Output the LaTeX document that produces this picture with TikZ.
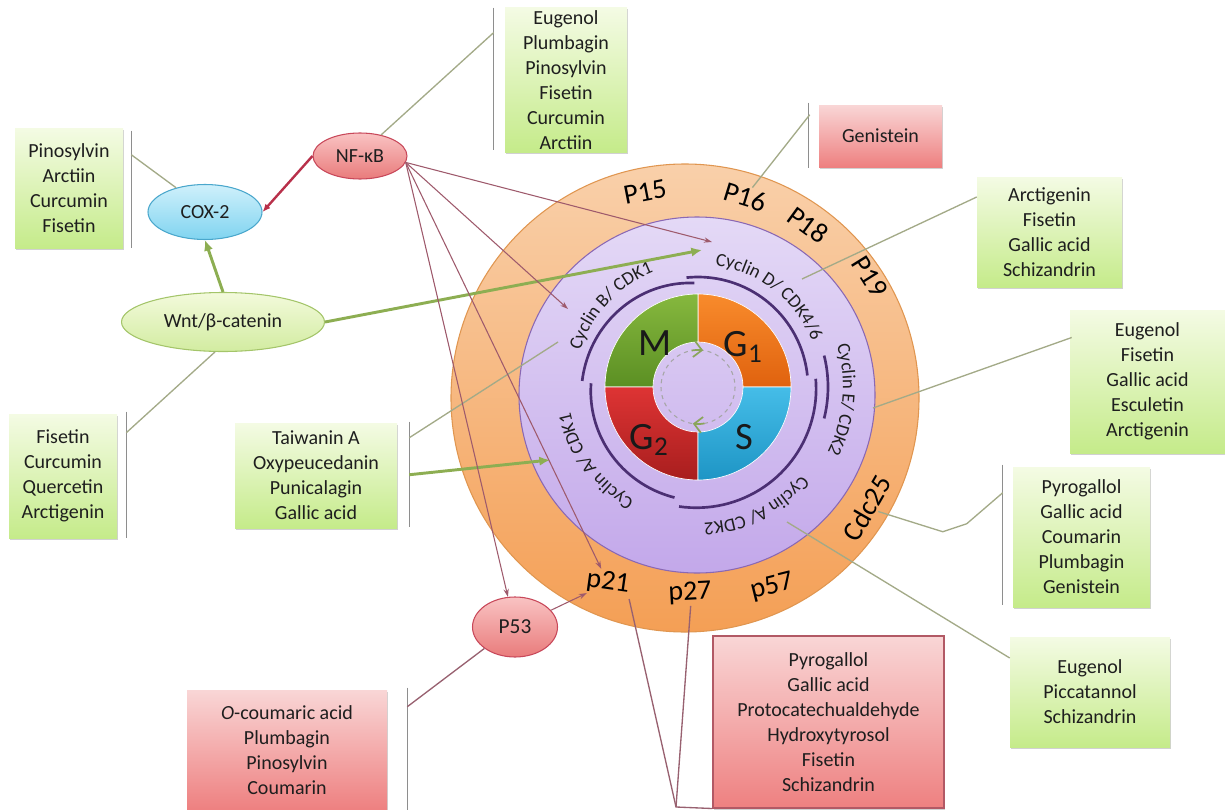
\documentclass[tikz,border=0pt]{standalone}
\usepackage{fontspec}
\setmainfont{Carlito}
\usetikzlibrary{arrows.meta,shapes.geometric,decorations.text,shadows,calc}

\definecolor{ortop}{HTML}{F9D0AA}
\definecolor{orbot}{HTML}{F49F55}
\definecolor{ordraw}{HTML}{E09650}
\definecolor{pltop}{HTML}{E4D9F6}
\definecolor{plbot}{HTML}{C3A8EA}
\definecolor{pldraw}{HTML}{8A68B4}
\definecolor{cycline}{HTML}{4B2F73}
\definecolor{g1top}{HTML}{F88B2C}
\definecolor{g1bot}{HTML}{E0620E}
\definecolor{mtop}{HTML}{86B83E}
\definecolor{mbot}{HTML}{5B8F23}
\definecolor{g2top}{HTML}{DE3434}
\definecolor{g2bot}{HTML}{A81E1E}
\definecolor{stop}{HTML}{45BDE8}
\definecolor{sbot}{HTML}{1E95C5}
\definecolor{nftop}{HTML}{F9C3C3}
\definecolor{nfbot}{HTML}{E97B7B}
\definecolor{nfdraw}{HTML}{C8485A}
\definecolor{coxtop}{HTML}{CFF0FB}
\definecolor{coxbot}{HTML}{80D4F0}
\definecolor{coxdraw}{HTML}{4AA7CC}
\definecolor{wnttop}{HTML}{F3FADC}
\definecolor{wntbot}{HTML}{D2ECA0}
\definecolor{wntdraw}{HTML}{A4C56A}
\definecolor{gtop}{HTML}{F4FBE4}
\definecolor{gbot}{HTML}{C5EB8A}
\definecolor{rtop}{HTML}{F9D6D6}
\definecolor{rbot}{HTML}{EE8080}
\definecolor{linkc}{HTML}{A3AA88}
\definecolor{brkc}{HTML}{8E8E8E}
\definecolor{nfc}{HTML}{9E5A6C}
\definecolor{greenarr}{HTML}{8DAE52}
\definecolor{redarr}{HTML}{B8304A}
\definecolor{txt}{HTML}{1E1E1E}

\newcommand\cycfont{\fontsize{14}{16}\selectfont\color{txt}}

\begin{document}
\begin{tikzpicture}[x=0.75pt, y=-0.75pt,
    drug/.style={rectangle, align=center, inner sep=2pt, text=txt,
                 font=\fontsize{15}{18.75}\selectfont,
                 drop shadow={shadow xshift=0.8pt, shadow yshift=-1.2pt, fill=black!40, opacity=0.45}},
    gbox/.style={drug, top color=gtop, bottom color=gbot},
    rbox/.style={drug, top color=rtop, bottom color=rbot},
    sig/.style={ellipse, draw, line width=0.8pt, inner sep=0pt, text=txt,
                font=\fontsize{15}{18}\selectfont},
    ringlbl/.style={font=\fontsize{21}{24}\selectfont, inner sep=1pt, text=black},
    phase/.style={font=\fontsize{29}{30}\selectfont, text=black!90},
    cyc/.style={draw=cycline, line width=2pt},
    brk/.style={draw=brkc, line width=1.1pt},
    link/.style={draw=linkc, line width=1pt},
    plink/.style={draw=nfc!80!gray, line width=1pt},
    nfarr/.style={draw=nfc, line width=0.8pt, -{Stealth[length=6pt,width=4pt]}},
    garr/.style={draw=greenarr, line width=2.2pt, -{Latex[length=8pt,width=7pt]}},
    rarr/.style={draw=redarr, line width=1.8pt, -{Latex[length=6pt,width=5pt]}},
  ]

  \useasboundingbox (0,0) rectangle (1225,810);

  % Rings
  \shadedraw[top color=ortop, bottom color=orbot, draw=ordraw, line width=0.8pt] (685,398) circle[radius=234];
  \shadedraw[top color=pltop, bottom color=plbot, draw=pldraw, line width=0.8pt] (697,395) circle[radius=178];

  % Cell cycle phases
  \begin{scope}[shift={(698,387)}]
    \shadedraw[top color=g1top, bottom color=g1bot, draw=white, line width=0.5pt]
      (0:45) -- (0:93) arc[start angle=0, end angle=-90, radius=93] -- (-90:45) arc[start angle=-90, end angle=0, radius=45] -- cycle;
    \shadedraw[top color=mtop, bottom color=mbot, draw=white, line width=0.5pt]
      (-90:45) -- (-90:93) arc[start angle=-90, end angle=-180, radius=93] -- (-180:45) arc[start angle=-180, end angle=-90, radius=45] -- cycle;
    \shadedraw[top color=g2top, bottom color=g2bot, draw=white, line width=0.5pt]
      (180:45) -- (180:93) arc[start angle=180, end angle=90, radius=93] -- (90:45) arc[start angle=90, end angle=180, radius=45] -- cycle;
    \shadedraw[top color=stop, bottom color=sbot, draw=white, line width=0.5pt]
      (90:45) -- (90:93) arc[start angle=90, end angle=0, radius=93] -- (0:45) arc[start angle=0, end angle=90, radius=45] -- cycle;

    \draw[gray!70, dashed, line width=0.8pt] (0,0) circle[radius=37];
    \draw[greenarr!80!gray, line width=1.3pt, -{Straight Barb[length=6pt]}] (-100:37) arc[start angle=-100, end angle=-82, radius=37];
    \draw[greenarr!80!gray, line width=1.3pt, -{Straight Barb[length=6pt]}] (80:37) arc[start angle=80, end angle=98, radius=37];

    % Cyclin arcs
    \draw[cyc] plot[domain=-177:-92, samples=40] (\x:{116-12*(\x+177)/85});
    \draw[cyc] plot[domain=-96:-6, samples=40] (\x:110);
    \draw[cyc] plot[domain=-14:14, samples=20] (\x:130);
    \draw[cyc] plot[domain=-4:99, samples=40] (\x:{118+3*(\x+4)/103});
    \draw[cyc] plot[domain=-258:-178, samples=40] (\x:{113-6*(\x+258)/80});

    % Cyclin labels
    \path[decorate, decoration={text along path, text align=center, text={|\cycfont|Cyclin D/ CDK4/6}}]
      (-100:123) arc[start angle=-100, end angle=-4, radius=123];
    \path[decorate, decoration={text along path, text align=center, text={|\cycfont|Cyclin B/ CDK1}}]
      (-190:123) arc[start angle=-190, end angle=-84, radius=123];
    \path[decorate, decoration={text along path, text align=center, text={|\cycfont|Cyclin E/ CDK2}}]
      (-43:145) arc[start angle=-43, end angle=53, radius=145];
    \path[decorate, decoration={text along path, text align=center, text={|\cycfont|Cyclin A/ CDK2}}]
      (16:136) arc[start angle=16, end angle=112, radius=136];
    \path[decorate, decoration={text along path, text align=center, text={|\cycfont|Cyclin A/ CDK1}}]
      (96:130) arc[start angle=96, end angle=192, radius=130];
  \end{scope}

  \node[phase] (mph) at (655,343) {M};
  \node[phase] (g1ph) at (743,347) {G\textsubscript{1}};
  \node[phase] (sph) at (744,437) {S};
  \node[phase] (g2ph) at (649,440) {G\textsubscript{2}};

  % Ring labels
  \node[ringlbl, rotate=11] (p15) at (645,192) {P15};
  \node[ringlbl, rotate=-17] (p16) at (745,197) {P16};
  \node[ringlbl, rotate=-36] (p18) at (808,225) {P18};
  \node[ringlbl, rotate=-58] (p19) at (870,277) {P19};
  \node[ringlbl, rotate=60] (cdc) at (867,508) {Cdc25};
  \node[ringlbl, rotate=-8] (p21) at (608,583) {p21};
  \node[ringlbl, rotate=3] (p27) at (690,593) {p27};
  \node[ringlbl, rotate=14] (p57) at (772,587) {p57};

  \coordinate (cycB) at (558,342);
  \coordinate (cycBtip) at (568,309);
  \coordinate (cycD) at (802,279);
  \coordinate (cycDtip) at (712,242);
  \coordinate (wnttip) at (702,250);
  \coordinate (cycE) at (873,408);
  \coordinate (cycA2) at (787,522);
  \coordinate (cycA1) at (550,460);

  % Signalling nodes
  \node[sig, top color=nftop, bottom color=nfbot, draw=nfdraw, minimum width=70.5pt, minimum height=34.5pt] (nfkb) at (360,156) {NF-κB};
  \node[sig, top color=coxtop, bottom color=coxbot, draw=coxdraw, minimum width=85.5pt, minimum height=41.25pt] (cox) at (205,212) {COX-2};
  \node[sig, top color=wnttop, bottom color=wntbot, draw=wntdraw, minimum width=152.25pt, minimum height=44.25pt] (wnt) at (223,322) {Wnt/β-catenin};
  \node[sig, top color=nftop, bottom color=nfbot, draw=nfdraw, minimum width=63.75pt, minimum height=45pt, font=\fontsize{16}{18}\selectfont] (p53) at (515,627) {P53};

  % Compound boxes
  \node[gbox, minimum width=81pt, minimum height=90pt] (coxbox) at (69,188) {Pinosylvin\\Arctiin\\Curcumin\\Fisetin};
  \node[gbox, minimum width=91.5pt, minimum height=108pt] (nfbox) at (566,80) {Eugenol\\Plumbagin\\Pinosylvin\\Fisetin\\Curcumin\\Arctiin};
  \node[rbox, minimum width=92.25pt, minimum height=46.5pt] (genbox) at (880.5,136) {Genistein};
  \node[gbox, minimum width=108.75pt, minimum height=82.5pt] (dbox) at (1049.5,232) {Arctigenin\\Fisetin\\Gallic acid\\Schizandrin};
  \node[gbox, minimum width=116.25pt, minimum height=107.25pt] (ebox) at (1147.5,381.5) {Eugenol\\Fisetin\\Gallic acid\\Esculetin\\Arctigenin};
  \node[gbox, minimum width=102.75pt, minimum height=105pt] (cdcbox) at (1081.5,537) {Pyrogallol\\Gallic acid\\Coumarin\\Plumbagin\\Genistein};
  \node[gbox, minimum width=120pt, minimum height=82.5pt] (a2box) at (1090,692) {Eugenol\\Piccatannol\\Schizandrin};
  \node[gbox, minimum width=81pt, minimum height=93pt] (wbox) at (63,476) {Fisetin\\Curcumin\\Quercetin\\Arctigenin};
  \node[gbox, minimum width=121.5pt, minimum height=78.75pt] (a1box) at (316,475.5) {Taiwanin A\\Oxypeucedanin\\Punicalagin\\Gallic acid};
  \node[rbox, minimum width=150pt, minimum height=90pt] (p53box) at (287,750) {\textit{O}-coumaric acid\\Plumbagin\\Pinosylvin\\Coumarin};
  \node[rbox, draw=nfdraw!70!gray, line width=0.8pt, minimum width=173.25pt, minimum height=129pt] (p21box) at (828.5,722) {Pyrogallol\\Gallic acid\\Protocatechualdehyde\\Hydroxytyrosol\\Fisetin\\Schizandrin};

  % Brackets
  \draw[brk] ([shift={(8,3)}]coxbox.north east) -- ([shift={(8,0)}]coxbox.south east);
  \draw[brk] ([shift={(-11,0)}]nfbox.north west) -- ([shift={(-11,-2)}]nfbox.south west);
  \draw[brk] ([shift={(-10,-2)}]genbox.north west) -- ([shift={(-10,1)}]genbox.south west);
  \draw[brk] ([shift={(-10,-2)}]cdcbox.north west) -- ([shift={(-10,-2)}]cdcbox.south west);
  \draw[brk] ([shift={(9,-2)}]wbox.north east) -- ([shift={(9,0)}]wbox.south east);
  \draw[brk] ([shift={(12,-1)}]a1box.north east) -- ([shift={(12,-1)}]a1box.south east);
  \draw[brk] ([shift={(20,-2)}]p53box.north east) -- ([shift={(20,0)}]p53box.south east);

  \coordinate (coxtap) at ([shift={(8,27)}]coxbox.north east);
  \coordinate (nftap) at ([shift={(-11,25)}]nfbox.north west);
  \coordinate (gentap) at ([shift={(-9,10)}]genbox.north west);
  \coordinate (cdctap) at ([shift={(-10,26)}]cdcbox.north west);
  \coordinate (wtap) at ([shift={(9,19)}]wbox.north east);
  \coordinate (a1tap) at ([shift={(12,15)}]a1box.north east);
  \coordinate (a1arr) at ([shift={(12,52)}]a1box.north east);
  \coordinate (p53tap) at ([shift={(20,17)}]p53box.north east);
  \coordinate (vjoin) at (676,807);

  % Box links
  \draw[link] (coxtap) -- (cox.140);
  \draw[link] (nftap) -- (nfkb.45);
  \draw[link] (gentap) -- (p16);
  \draw[link] ([shift={(0,-35)}]dbox.west) -- (cycD);
  \draw[link] ([shift={(2,-44)}]ebox.west) -- (cycE);
  \draw[link] (cdctap) -- ++(-36,31) -- ++(-24,8) -- (cdc);
  \draw[link] ([shift={(0,-34)}]a2box.west) -- (cycA2);
  \draw[link] (wtap) -- (wnt.255);
  \draw[link] (a1tap) -- (cycB);
  \draw[plink] (p53tap) -- (p53.215);
  \draw[plink] (p21.south east) -- (vjoin) -- (p21box.south west);
  \draw[plink] (p27.south) -- (vjoin);

  % Arrows
  \draw[rarr] (nfkb.west) -- (cox.east);
  \draw[garr] (wnt.north) -- (cox.south);
  \draw[garr] (wnt.east) -- (wnttip);
  \draw[garr] (a1arr) -- (cycA1);
  \draw[nfarr] (nfkb.-8) -- (cycDtip);
  \draw[nfarr] (nfkb.-8) -- (cycBtip);
  \draw[nfarr] (nfkb.-8) -- (p21);
  \draw[nfarr] (nfkb.-8) -- (p53);
  \draw[nfarr] (p53.25) -- (p21);

\end{tikzpicture}
\end{document}
